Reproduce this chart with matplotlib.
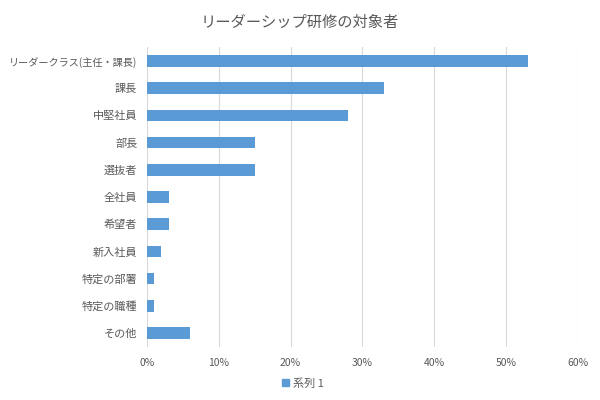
import matplotlib
matplotlib.use("Agg")
import matplotlib.pyplot as plt
from matplotlib.ticker import PercentFormatter
from matplotlib.patches import Patch

plt.rcParams['font.family'] = ['Noto Sans CJK JP', 'DejaVu Sans']

categories = ["リーダークラス(主任・課長)", "課長", "中堅社員", "部長", "選抜者", "全社員",
              "希望者", "新入社員", "特定の部署", "特定の職種", "その他"]
values = [53, 33, 28, 15, 15, 3, 3, 2, 1, 1, 6]
series_name = "系列 1"
xticks = [0, 10, 20, 30, 40, 50, 60]

bar_color = "#5B9BD5"
text_color = "#595959"
grid_color = "#D9D9D9"

fig = plt.figure(figsize=(6, 4), dpi=100)
ax = fig.add_axes([0.245, 0.1335, 0.718, 0.748])

y = list(range(len(categories)))
ax.barh(y, values, height=0.42, color=bar_color, zorder=3)
ax.set_yticks(y)
ax.set_yticklabels(categories)
ax.set_ylim(len(categories) - 0.5, -0.5)
ax.set_xlim(0, 60)
ax.set_xticks(xticks)
ax.xaxis.set_major_formatter(PercentFormatter(decimals=0))
ax.grid(axis='x', color=grid_color, linewidth=0.8, zorder=0)
for s in ax.spines.values():
    s.set_visible(False)
ax.tick_params(axis='both', length=0, colors=text_color)
ax.tick_params(axis='x', pad=8, labelsize=7.5)
ax.tick_params(axis='y', pad=7, labelsize=8)
ax.get_yticklabels()[0].set_fontsize(7.3)

fig.suptitle("リーダーシップ研修の対象者", x=0.5, y=0.965, fontsize=11, color=text_color)

leg = fig.legend(handles=[Patch(color=bar_color, label=series_name)], loc='center',
                 bbox_to_anchor=(0.505, 0.042), frameon=False, fontsize=8,
                 handlelength=0.6, handleheight=0.6, handletextpad=0.4)
for t in leg.get_texts():
    t.set_color(text_color)

fig.savefig("out.png", dpi=100, facecolor="white")
